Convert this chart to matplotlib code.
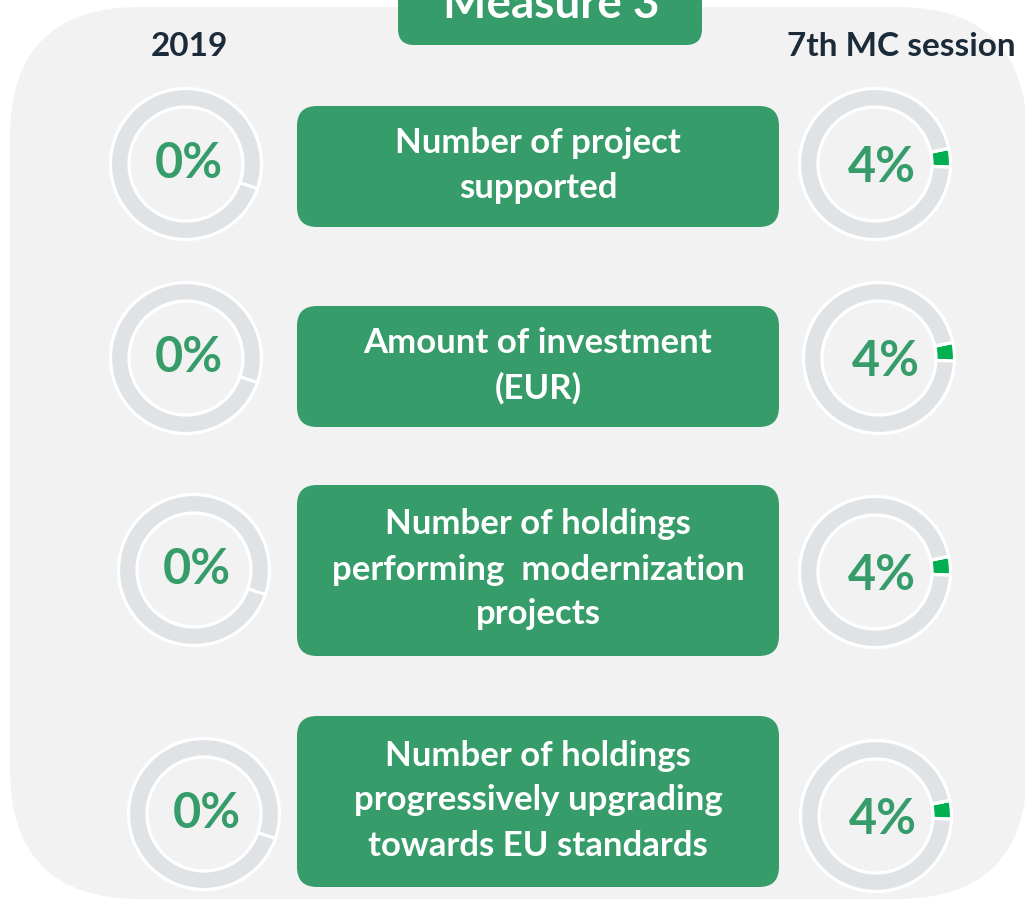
import numpy as np
import matplotlib.pyplot as plt
from matplotlib.patches import FancyBboxPatch

# indicator progress, in percent
indicators = ["Number of project\nsupported",
              "Amount of investment\n(EUR)",
              "Number of holdings\nperforming  modernization\nprojects",
              "Number of holdings\nprogressively upgrading\ntowards EU standards"]
pct_2019 = [0, 0, 0, 0]
pct_7th = [4, 4, 4, 4]
col_headers = ["2019", "7th MC session"]
title = "Measure 3"

W, H = 1025, 901
GREEN = '#359C6A'
RING_GREEN = '#00B050'
GRAY = '#E0E3E6'
BG = '#F2F2F2'
DARK = '#1C2B39'
FONT = 'Lato'

# layout in image pixels (y from top)
box_top = [106, 306, 485, 716]
box_bot = [227, 427, 656, 887]
left_c = [(186, 164), (186, 358), (194, 570), (204, 814)]
right_c = [(875, 164), (879, 358), (875, 572), (876, 816)]
R_OUT, RING_W = 75.5, 18.5

def Y(y):
    return H - y

fig = plt.figure(figsize=(W/100, H/100), dpi=100)
ax = fig.add_axes([0, 0, 1, 1])

# light background panel
ax.add_patch(FancyBboxPatch((10, Y(899)), 1017, 892,
                            boxstyle="round,pad=0,rounding_size=130",
                            fc=BG, ec='none', zorder=0))

# title tab
ax.add_patch(FancyBboxPatch((398, Y(45)), 304, 80,
                            boxstyle="round,pad=0,rounding_size=16",
                            fc=GREEN, ec='none', zorder=1))
ax.text(551, Y(18), title, ha='center', va='baseline', color='white',
        fontsize=33, fontweight='bold', family=FONT, zorder=2)

ax.text(189, Y(46), col_headers[0], ha='center', va='center', color=DARK,
        fontsize=24, fontweight='bold', family=FONT)
ax.text(901, Y(46), col_headers[1], ha='center', va='center', color=DARK,
        fontsize=24, fontweight='bold', family=FONT)

def donut(c, pct, start, dx=0, dy=0):
    cx, cy = c[0], Y(c[1])
    ax.pie([pct, 100 - pct], center=(cx, cy), radius=R_OUT,
           startangle=start, counterclock=False, colors=[RING_GREEN, GRAY],
           wedgeprops=dict(width=RING_W, edgecolor='white', linewidth=2.3))
    # separator where the ring starts
    a = np.deg2rad(start)
    r = np.array([R_OUT - RING_W - 1, R_OUT + 1])
    ax.plot(cx + r * np.cos(a), cy + r * np.sin(a), color='white', lw=2.3,
            solid_capstyle='butt', zorder=3)
    ax.text(cx + dx, cy - dy, f"{pct}%", ha='center', va='center',
            color=GREEN, fontsize=35, fontweight='bold', family=FONT)

for i, lab in enumerate(indicators):
    t, b = box_top[i], box_bot[i]
    ax.add_patch(FancyBboxPatch((297, Y(b)), 482, b - t,
                                boxstyle="round,pad=0,rounding_size=20",
                                fc=GREEN, ec='none', zorder=1))
    ax.text(538, Y((t + b) / 2) + 1, lab, ha='center', va='center', color='white',
            fontsize=25, fontweight='bold', family=FONT, linespacing=1.5,
            zorder=2)
    donut(left_c[i], pct_2019[i], -19, 3, 0)
    donut(right_c[i], pct_7th[i], 12, 7, 4)

ax.set_xlim(0, W)
ax.set_ylim(0, H)
ax.axis('off')
fig.savefig('out.png', dpi=100, facecolor='white')
